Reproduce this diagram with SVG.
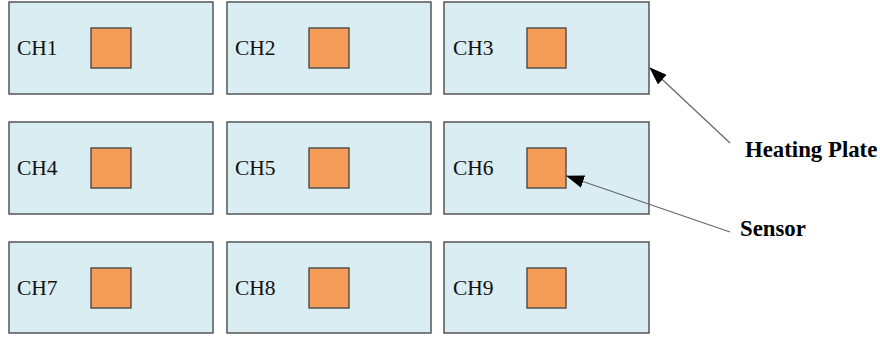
<svg xmlns="http://www.w3.org/2000/svg" width="880" height="340" viewBox="0 0 880 340">
  <style>
    .plate { fill: #daedf3; stroke: #4a4a4a; stroke-width: 1.4; }
    .sensor { fill: #f59c58; stroke: #4a4a4a; stroke-width: 1.4; }
    .ch { font-family: "Liberation Serif", "Times New Roman", serif; font-size: 21.5px; fill: #111; }
    .note { font-family: "Liberation Serif", "Times New Roman", serif; font-size: 22.8px; font-weight: bold; fill: #000; }
    .lead { stroke: #666; stroke-width: 1.2; fill: none; }
  </style>
  <defs>
    <marker id="tip" viewBox="0 0 18 13" refX="17" refY="6.5" markerWidth="18" markerHeight="13" markerUnits="userSpaceOnUse" orient="auto">
      <path d="M0,0 L18,6.5 L0,13 Z" fill="#000"/>
    </marker>
  </defs>

  <!-- row 1 -->
  <g id="ch1"><rect class="plate" x="9" y="2" width="204" height="92"/><rect class="sensor" x="91" y="28" width="40" height="40"/><text class="ch" x="17" y="55">CH1</text></g>
  <g id="ch2"><rect class="plate" x="227" y="2" width="204" height="92"/><rect class="sensor" x="309" y="28" width="40" height="40"/><text class="ch" x="235" y="55">CH2</text></g>
  <g id="ch3"><rect class="plate" x="444" y="2" width="205" height="92"/><rect class="sensor" x="527" y="28" width="39" height="40"/><text class="ch" x="453" y="55">CH3</text></g>

  <!-- row 2 -->
  <g id="ch4"><rect class="plate" x="9" y="122" width="204" height="92"/><rect class="sensor" x="91" y="148" width="40" height="40"/><text class="ch" x="17" y="175">CH4</text></g>
  <g id="ch5"><rect class="plate" x="227" y="122" width="204" height="92"/><rect class="sensor" x="309" y="148" width="40" height="40"/><text class="ch" x="235" y="175">CH5</text></g>
  <g id="ch6"><rect class="plate" x="444" y="122" width="205" height="92"/><rect class="sensor" x="527" y="148" width="39" height="40"/><text class="ch" x="453" y="175">CH6</text></g>

  <!-- row 3 -->
  <g id="ch7"><rect class="plate" x="9" y="242" width="204" height="91"/><rect class="sensor" x="91" y="268" width="40" height="40"/><text class="ch" x="17" y="295">CH7</text></g>
  <g id="ch8"><rect class="plate" x="227" y="242" width="204" height="91"/><rect class="sensor" x="309" y="268" width="40" height="40"/><text class="ch" x="235" y="295">CH8</text></g>
  <g id="ch9"><rect class="plate" x="444" y="242" width="205" height="91"/><rect class="sensor" x="527" y="268" width="39" height="40"/><text class="ch" x="453" y="295">CH9</text></g>

  <!-- callout labels -->
  <g id="label-heating"><text class="note" x="745" y="157">Heating Plate</text></g>
  <g id="label-sensor"><text class="note" x="740" y="236">Sensor</text></g>

  <g id="connectors">
    <line class="lead" x1="730" y1="143" x2="650" y2="68" marker-end="url(#tip)"/>
    <line class="lead" x1="730" y1="232" x2="567" y2="176" marker-end="url(#tip)"/>
  </g>
</svg>
